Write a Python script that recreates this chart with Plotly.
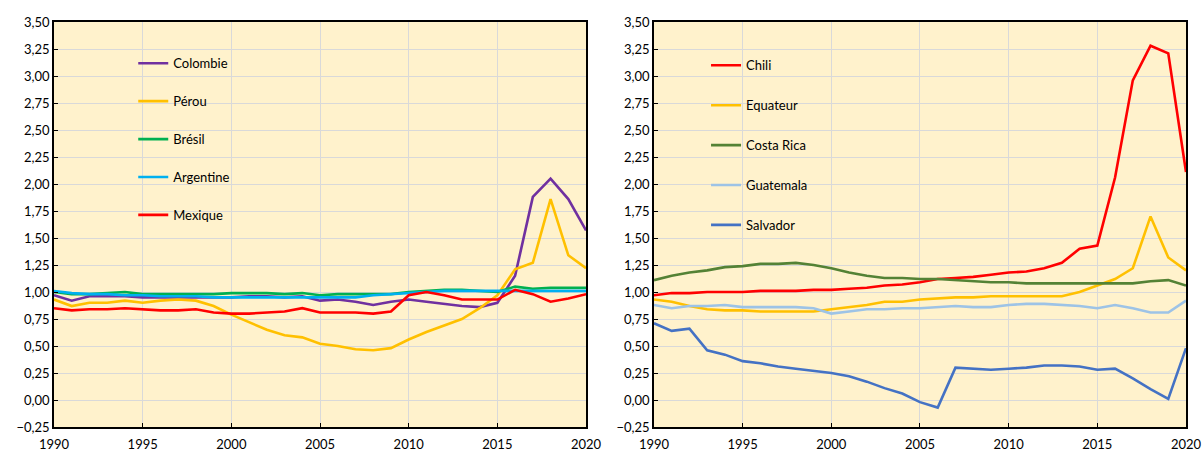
import plotly.graph_objects as go

years = list(range(1990, 2021))

# Left panel
colombie = [0.97, 0.92, 0.96, 0.96, 0.96, 0.95, 0.95, 0.95, 0.95, 0.95, 0.95, 0.96, 0.96, 0.95, 0.96, 0.92,
            0.93, 0.91, 0.88, 0.91, 0.93, 0.91, 0.89, 0.87, 0.86, 0.90, 1.15, 1.88, 2.05, 1.86, 1.57]
perou = [0.93, 0.87, 0.90, 0.90, 0.92, 0.90, 0.92, 0.93, 0.92, 0.87, 0.79, 0.72, 0.65, 0.60, 0.58, 0.52,
         0.50, 0.47, 0.46, 0.48, 0.56, 0.63, 0.69, 0.75, 0.85, 0.97, 1.21, 1.27, 1.86, 1.34, 1.22]
bresil = [1.00, 0.98, 0.98, 0.99, 1.00, 0.98, 0.98, 0.98, 0.98, 0.98, 0.99, 0.99, 0.99, 0.98, 0.99, 0.97,
          0.98, 0.98, 0.98, 0.98, 1.00, 1.01, 1.02, 1.02, 1.01, 1.00, 1.05, 1.03, 1.04, 1.04, 1.04]
argentine = [1.01, 0.99, 0.98, 0.98, 0.97, 0.97, 0.96, 0.96, 0.96, 0.95, 0.95, 0.95, 0.95, 0.95, 0.95, 0.95,
             0.95, 0.95, 0.97, 0.98, 0.99, 1.00, 1.01, 1.01, 1.01, 1.01, 1.01, 1.01, 1.01, 1.01, 1.01]
mexique = [0.85, 0.83, 0.84, 0.84, 0.85, 0.84, 0.83, 0.83, 0.84, 0.81, 0.80, 0.80, 0.81, 0.82, 0.85, 0.81,
           0.81, 0.81, 0.80, 0.82, 0.97, 1.00, 0.97, 0.93, 0.93, 0.93, 1.02, 0.98, 0.91, 0.94, 0.98]

# Right panel
chili = [0.97, 0.99, 0.99, 1.00, 1.00, 1.00, 1.01, 1.01, 1.01, 1.02, 1.02, 1.03, 1.04, 1.06, 1.07, 1.09,
         1.12, 1.13, 1.14, 1.16, 1.18, 1.19, 1.22, 1.27, 1.40, 1.43, 2.06, 2.96, 3.28, 3.21, 2.11]
equateur = [0.93, 0.91, 0.87, 0.84, 0.83, 0.83, 0.82, 0.82, 0.82, 0.82, 0.84, 0.86, 0.88, 0.91, 0.91, 0.93,
            0.94, 0.95, 0.95, 0.96, 0.96, 0.96, 0.96, 0.96, 1.00, 1.06, 1.12, 1.22, 1.70, 1.32, 1.20]
costa_rica = [1.11, 1.15, 1.18, 1.20, 1.23, 1.24, 1.26, 1.26, 1.27, 1.25, 1.22, 1.18, 1.15, 1.13, 1.13, 1.12,
              1.12, 1.11, 1.10, 1.09, 1.09, 1.08, 1.08, 1.08, 1.08, 1.08, 1.08, 1.08, 1.10, 1.11, 1.06]
guatemala = [0.88, 0.85, 0.87, 0.87, 0.88, 0.86, 0.86, 0.86, 0.86, 0.85, 0.80, 0.82, 0.84, 0.84, 0.85, 0.85,
             0.86, 0.87, 0.86, 0.86, 0.88, 0.89, 0.89, 0.88, 0.87, 0.85, 0.88, 0.85, 0.81, 0.81, 0.92]
salvador = [0.71, 0.64, 0.66, 0.46, 0.42, 0.36, 0.34, 0.31, 0.29, 0.27, 0.25, 0.22, 0.17, 0.11, 0.06, -0.02,
            -0.07, 0.30, 0.29, 0.28, 0.29, 0.30, 0.32, 0.32, 0.31, 0.28, 0.29, 0.20, 0.10, 0.01, 0.48]

left_series = [("Colombie", colombie, "#7030A0"), ("Pérou", perou, "#FFC000"),
               ("Brésil", bresil, "#00B050"), ("Argentine", argentine, "#00B0F0"),
               ("Mexique", mexique, "#FF0000")]
right_series = [("Chili", chili, "#FF0000"), ("Equateur", equateur, "#FFC000"),
                ("Costa Rica", costa_rica, "#548235"), ("Guatemala", guatemala, "#9DC3E6"),
                ("Salvador", salvador, "#4472C4")]

y_ticks = [-0.25 + 0.25 * i for i in range(16)]
x_ticks = [1990, 1995, 2000, 2005, 2010, 2015, 2020]

fig = go.Figure()
for name, vals, col in left_series:
    fig.add_trace(go.Scatter(x=years, y=vals, name=name, mode="lines",
                             line=dict(color=col, width=2.6), xaxis="x", yaxis="y",
                             legend="legend", legendgroup=name))
for name, vals, col in right_series:
    fig.add_trace(go.Scatter(x=years, y=vals, name=name, mode="lines",
                             line=dict(color=col, width=2.6), xaxis="x2", yaxis="y2",
                             legend="legend2", legendgroup=name))

font = dict(family="Lato, Open Sans, sans-serif", size=13, color="#000000")

axis_common = dict(showgrid=True, gridcolor="#D9D9D9", gridwidth=1, showline=True,
                   linecolor="#000000", linewidth=1.5, mirror=True, ticks="inside",
                   ticklen=4, tickcolor="#000000", zeroline=False, tickfont=font,
                   automargin=False)

fig.update_layout(
    width=1203, height=452,
    margin=dict(l=54, r=17, t=22, b=25, autoexpand=False),
    paper_bgcolor="#FFFFFF",
    plot_bgcolor="#FFF2CC",
    separators=", ",
    font=font,
    xaxis=dict(domain=[0, 0.47], range=[1990, 2020], tickvals=x_ticks, anchor="y",
               ticklabelstandoff=5, **axis_common),
    yaxis=dict(range=[-0.25, 3.5], tickvals=y_ticks, tickformat=".2f", anchor="x", **axis_common),
    xaxis2=dict(domain=[0.53, 1], range=[1990, 2020], tickvals=x_ticks, anchor="y2",
                ticklabelstandoff=5, **axis_common),
    yaxis2=dict(range=[-0.25, 3.5], tickvals=y_ticks, tickformat=".2f", anchor="x2", **axis_common),
    legend=dict(x=0.070, y=0.935, xanchor="left", yanchor="top", bgcolor="rgba(0,0,0,0)",
                tracegroupgap=18, font=font, itemwidth=30),
    legend2=dict(x=0.576, y=0.930, xanchor="left", yanchor="top", bgcolor="rgba(0,0,0,0)",
                 tracegroupgap=20, font=font, itemwidth=30),
    showlegend=True,
)

fig.write_html("out.html", config={"displayModeBar": False},
               post_script="document.body.style.margin='0';document.body.style.padding='0';"
                           "document.body.style.overflow='hidden';")
